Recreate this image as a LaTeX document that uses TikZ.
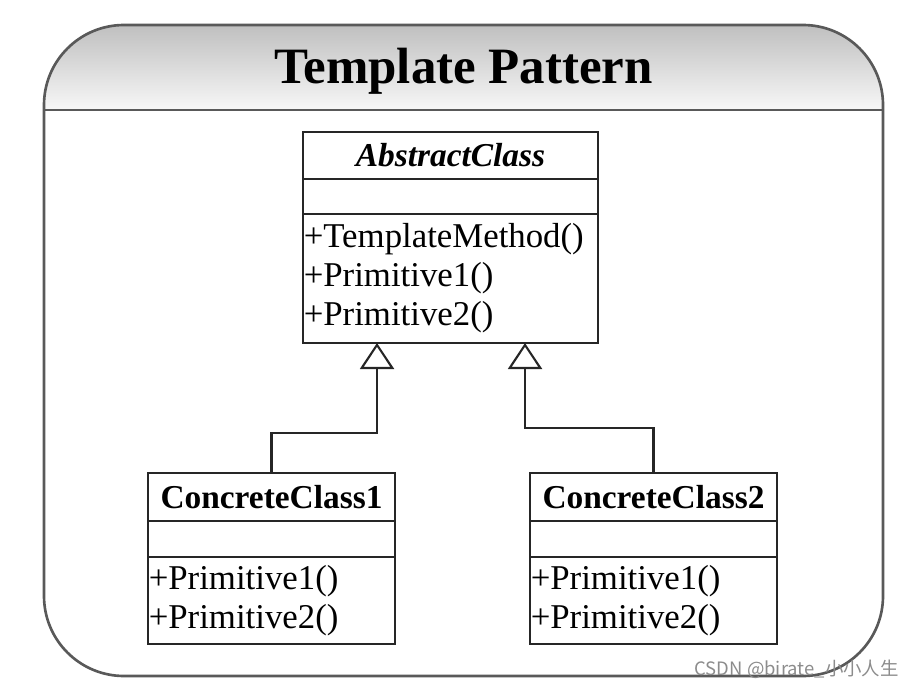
\documentclass[tikz,border=0pt]{standalone}
\usepackage{fontspec}
\setmainfont{Liberation Serif}
\newfontfamily\cjkfont{Noto Sans CJK SC}
\usetikzlibrary{arrows.meta, positioning}
\tikzstyle{frame} = [
  draw=black!65,
  line width=1.5pt,
  rounded corners=1.6cm
]
\tikzstyle{heading} = [
  anchor=base,
  inner sep=0,
  font=\fontsize{29}{34}\selectfont\bfseries
]
\tikzstyle{classname} = [
  rectangle,
  draw=black!85,
  line width=1.2pt,
  outer sep=0,
  inner sep=0,
  text centered,
  font=\fontsize{19}{22}\selectfont\bfseries
]
\tikzstyle{classattr} = [
  rectangle,
  draw=black!85,
  line width=1.2pt,
  outer sep=0,
  inner sep=0
]
\tikzstyle{classops} = [
  rectangle,
  draw=black!85,
  line width=1.2pt,
  outer sep=0,
  inner xsep=0.015cm,
  inner ysep=0,
  align=left,
  font=\fontsize{19.8}{22.2}\selectfont
]
\tikzstyle{inherit} = [
  draw=black!85,
  line width=1.2pt,
  -{Triangle[open, length=0.52cm, width=0.68cm]}
]

\begin{document}
\begin{tikzpicture}[node distance=0cm]
    \useasboundingbox (0,0) rectangle (18.4,-13.78);

    % outer frame with shaded header
    \begin{scope}
      \clip [rounded corners=1.6cm] (0.88,-0.5) rectangle (17.66,-13.52);
      \shade [top color=black!25, bottom color=black!3] (0.88,-0.5) rectangle (17.66,-2.2);
    \end{scope}
    \draw [frame] (0.88,-0.5) rectangle (17.66,-13.52);
    \draw [frame, rounded corners=0] (0.88,-2.2) -- (17.66,-2.2);
    \node (title) [heading] at (9.27,-1.68) {Template Pattern};

    \node (abstract) [classname, minimum width=5.9cm, minimum height=0.94cm] at (9.01,-3.11) {\textit{AbstractClass}};
    \node (abstractattr) [classattr, minimum width=5.9cm, minimum height=0.7cm, below=of abstract] {};
    \node (abstractops) [classops, text width=5.87cm, minimum height=2.58cm, below=of abstractattr] {+TemplateMethod()\\+Primitive1()\\+Primitive2()};

    \node (concrete1) [classname, minimum width=4.94cm, minimum height=0.96cm, below=2.6cm of abstractops, xshift=-3.58cm] {ConcreteClass1};
    \node (concrete1attr) [classattr, minimum width=4.94cm, minimum height=0.72cm, below=of concrete1] {};
    \node (concrete1ops) [classops, text width=4.91cm, minimum height=1.74cm, below=of concrete1attr] {+Primitive1()\\+Primitive2()};

    \node (concrete2) [classname, minimum width=4.94cm, minimum height=0.96cm, below=2.6cm of abstractops, xshift=4.06cm] {ConcreteClass2};
    \node (concrete2attr) [classattr, minimum width=4.94cm, minimum height=0.72cm, below=of concrete2] {};
    \node (concrete2ops) [classops, text width=4.91cm, minimum height=1.74cm, below=of concrete2attr] {+Primitive1()\\+Primitive2()};

    \draw [inherit] (concrete1.north) -- ++(0,0.8) -| ([xshift=-1.47cm]abstractops.south);
    \draw [inherit] (concrete2.north) -- ++(0,0.9) -| ([xshift=1.49cm]abstractops.south);

    \node (watermark) [anchor=base east, text=black!45, font=\cjkfont\fontsize{10.5}{12}\selectfont] at (18.1,-13.5) {CSDN @birate\_小小人生};

  \end{tikzpicture}
\end{document}
